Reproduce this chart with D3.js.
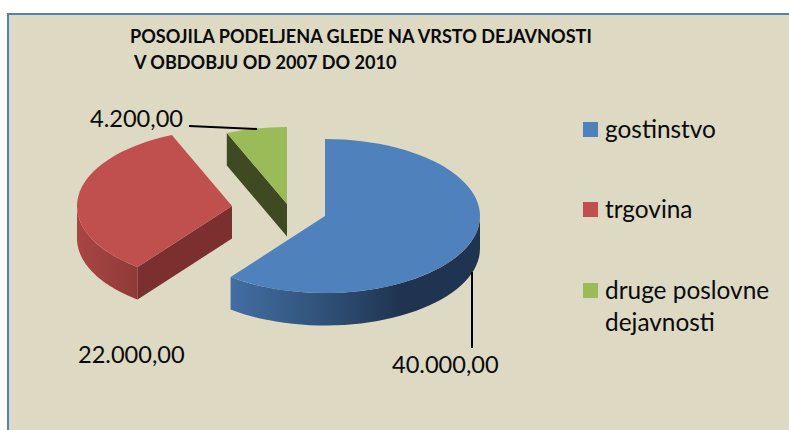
<!DOCTYPE html>
<html><head><meta charset="utf-8">
<script src="https://cdn.jsdelivr.net/npm/d3@7/dist/d3.min.js"></script>
<style>html,body{margin:0;padding:0;background:#fff}svg{display:block}text{font-family:Lato,"Open Sans",sans-serif;fill:#0a0a0a}</style>
</head><body><svg id="c" width="789" height="430"></svg>
<script>
const titleLines = ["POSOJILA PODELJENA GLEDE NA VRSTO DEJAVNOSTI", "V OBDOBJU OD 2007 DO 2010"];
const categories = ["gostinstvo", "trgovina", "druge poslovne"];
const categoryExtra = ["", "", "dejavnosti"];
const values = [40000, 22000, 4200];
const valueLabels = ["40.000,00", "22.000,00", "4.200,00"];
const topColors = ["#4f81bd", "#c0504d", "#9bbb59"];

const svg = d3.select("#c");
const rx = 155, ry = 77, depth = 32.5;
const apexes = [[325, 216], [232, 206], [287, 204]];
const radius = d3.scaleLinear().domain([0, 1]).range([0, rx]);

svg.append("rect").attr("x", 8).attr("y", 14).attr("width", 800).attr("height", 430)
  .attr("fill", "#ddd9c3").attr("stroke", "#4f81bd").attr("stroke-width", 2);

const defs = svg.append("defs");
function grad(id, stops) {
  const g = defs.append("linearGradient").attr("id", id).attr("x1", 0).attr("x2", 1).attr("y1", 0).attr("y2", 0);
  stops.forEach(s => g.append("stop").attr("offset", s[0]).attr("stop-color", s[1]));
}
grad("wall0", [[0, "#426ea3"], [0.4, "#2f4f75"], [0.68, "#1f3450"], [1, "#1f3450"]]);
grad("wall1", [[0, "#a84643"], [1, "#8f3a38"]]);

const pie = d3.pie().sort(null).value(d => d);
const arcs = pie(values);
const arc = d3.arc().innerRadius(0).outerRadius(radius(1));
const px = (a, i) => apexes[i][0] + rx * Math.sin(a);
const py = (a, i) => apexes[i][1] - ry * Math.cos(a);

function curvedWall(i, a0, a1) {
  const steps = d3.range(0, 41).map(k => a0 + (a1 - a0) * k / 40);
  const top = steps.map(a => [px(a, i), py(a, i)]);
  const bottom = steps.slice().reverse().map(a => [px(a, i), py(a, i) + depth]);
  return d3.line()(top.concat(bottom)) + "Z";
}
function radialWall(i, a) {
  const [x, y] = apexes[i];
  return d3.line()([[x, y], [px(a, i), py(a, i)], [px(a, i), py(a, i) + depth], [x, y + depth]]) + "Z";
}
const half = Math.PI / 2, bottomEnd = Math.PI * 1.5;
// curved outer walls (front half only) and start-edge walls
const wallFills = ["url(#wall0)", "url(#wall1)", "#3f4a22"];
const startWallFills = [null, "#7b2f2e", "#3f4a22"];
[0, 1, 2].forEach(i => {
  const a = arcs[i];
  const a0 = Math.max(a.startAngle, half), a1 = Math.min(a.endAngle, bottomEnd);
  if (a1 > a0) svg.append("path").attr("d", curvedWall(i, a0, a1)).attr("fill", wallFills[i]);
  if (startWallFills[i]) svg.append("path").attr("d", radialWall(i, a.startAngle)).attr("fill", startWallFills[i]);
  svg.append("path").attr("d", arc(a))
    .attr("transform", `translate(${apexes[i][0]},${apexes[i][1]}) scale(1,${ry / rx})`)
    .attr("fill", topColors[i]);
});

// leader lines
svg.append("path").attr("d", d3.line()([[189, 126], [257, 129]])).attr("stroke", "#000").attr("stroke-width", 2).attr("fill", "none");
svg.append("path").attr("d", d3.line()([[472, 272], [472, 348]])).attr("stroke", "#000").attr("stroke-width", 2).attr("fill", "none");

// title
const titleX = [130, 134], titleY = [43, 69];
titleLines.forEach((t, i) => svg.append("text").attr("x", titleX[i]).attr("y", titleY[i])
  .attr("font-size", 18.1).attr("font-weight", 700).text(t));

// value labels
const labelPos = [[392, 373], [78, 363], [90, 127]];
valueLabels.forEach((t, i) => svg.append("text").attr("x", labelPos[i][0]).attr("y", labelPos[i][1])
  .attr("font-size", 23.6).text(t));

// legend
const legendY = [122, 202, 283];
categories.forEach((c, i) => {
  svg.append("rect").attr("x", 583).attr("y", legendY[i]).attr("width", 15).attr("height", 15).attr("fill", topColors[i]);
  svg.append("text").attr("x", 605).attr("y", legendY[i] + 16).attr("font-size", 24.4).text(c);
  if (categoryExtra[i]) svg.append("text").attr("x", 605).attr("y", legendY[i] + 48).attr("font-size", 24.4).text(categoryExtra[i]);
});
</script></body></html>
